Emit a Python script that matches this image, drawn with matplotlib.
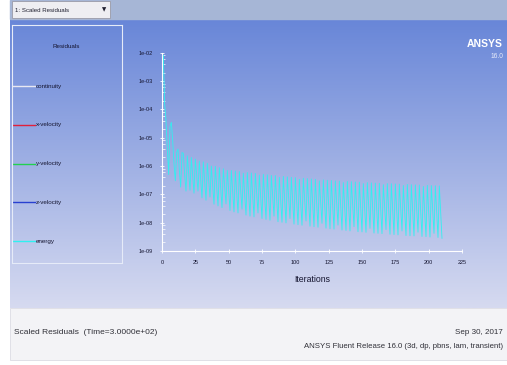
import numpy as np
import matplotlib
matplotlib.use("Agg")
import matplotlib.pyplot as plt
from matplotlib.patches import Rectangle
from matplotlib.ticker import FuncFormatter, LogLocator, FixedLocator

plt.rcParams['font.family'] = ['Liberation Sans Narrow', 'Liberation Sans', 'DejaVu Sans']

# ---- residual history (energy) ----
# first iterations, before the periodic pattern settles
early_iter = [1, 2, 3, 4, 5, 6, 7, 8, 9, 10, 11, 12, 13, 14, 15, 16, 17, 18]
early_res = [8e-3, 1.5e-4, 4e-5, 4e-6, 5e-7, 2.5e-5, 3.5e-5, 8e-6, 1.2e-6, 3e-7,
             3e-6, 4e-6, 7e-7, 1.8e-7, 3e-6, 2.8e-6, 5e-7, 1.3e-7]

# first iteration of each time step (peak) ...
peak_iter = [19, 22, 25, 28, 31, 34, 37, 40, 43, 46, 49, 52, 55, 58, 61, 64, 67, 70,
             73, 76, 79, 82, 85, 88, 91, 94, 97, 100, 103, 106, 109, 112, 115, 118, 121,
             124, 127, 130, 133, 136, 139, 142, 145, 148, 151, 154, 157, 160, 163, 166,
             169, 172, 175, 178, 181, 184, 187, 190, 193, 196, 199, 202, 205, 208]
peak_res = [2.3e-6, 2.0e-6, 1.75e-6, 1.5e-6, 1.4e-6, 1.25e-6, 1.0e-6, 9.8e-7, 8.8e-7,
            8.0e-7, 7.0e-7, 7.0e-7, 6.7e-7, 6.4e-7, 5.6e-7, 5.9e-7, 5.7e-7, 5.5e-7,
            4.8e-7, 5.1e-7, 4.9e-7, 4.7e-7, 4.6e-7, 4.0e-7, 4.3e-7, 4.15e-7, 4.0e-7,
            3.9e-7, 3.4e-7, 3.7e-7, 3.6e-7, 3.5e-7, 3.4e-7, 3.0e-7, 3.25e-7, 3.15e-7,
            3.1e-7, 3.0e-7, 2.95e-7, 2.6e-7, 2.85e-7, 2.8e-7, 2.75e-7, 2.7e-7, 2.4e-7,
            2.6e-7, 2.55e-7, 2.5e-7, 2.47e-7, 2.2e-7, 2.4e-7, 2.37e-7, 2.34e-7, 2.3e-7,
            2.05e-7, 2.24e-7, 2.2e-7, 2.17e-7, 2.14e-7, 1.9e-7, 2.08e-7, 2.05e-7,
            2.02e-7, 2.0e-7]
# ... and its last iteration (trough)
trough_iter = [21, 24, 27, 30, 33, 36, 39, 42, 45, 48, 51, 54, 57, 60, 63, 66, 69, 72,
               75, 78, 81, 84, 87, 90, 93, 96, 99, 102, 105, 108, 111, 114, 117, 120, 123,
               126, 129, 132, 135, 138, 141, 144, 147, 150, 153, 156, 159, 162, 165, 168,
               171, 174, 177, 180, 183, 186, 189, 192, 195, 198, 201, 204, 207, 210]
trough_res = [1.4e-7, 1.1e-7, 1.3e-7, 7.5e-8, 6.2e-8, 8.0e-8, 4.5e-8, 3.9e-8, 3.4e-8,
              4.6e-8, 2.7e-8, 2.4e-8, 2.2e-8, 3.0e-8, 1.85e-8, 1.7e-8, 1.6e-8, 2.2e-8,
              1.4e-8, 1.3e-8, 1.22e-8, 1.7e-8, 1.08e-8, 1.03e-8, 9.8e-9, 1.4e-8, 8.9e-9,
              8.5e-9, 8.1e-9, 1.15e-8, 7.5e-9, 7.2e-9, 6.9e-9, 9.5e-9, 6.4e-9, 6.1e-9,
              5.9e-9, 8.2e-9, 5.5e-9, 5.3e-9, 5.1e-9, 7.2e-9, 4.8e-9, 4.7e-9, 4.55e-9,
              6.3e-9, 4.3e-9, 4.2e-9, 4.1e-9, 5.7e-9, 3.9e-9, 3.8e-9, 3.7e-9, 5.1e-9,
              3.5e-9, 3.45e-9, 3.4e-9, 4.6e-9, 3.25e-9, 3.2e-9, 3.1e-9, 4.2e-9, 3.0e-9,
              2.8e-9]

legend_names = ['continuity', 'x-velocity', 'y-velocity', 'z-velocity', 'energy']
legend_colors = ['#e8e8f2', '#e0203c', '#22d050', '#2840d0', '#30f0f0']
x_ticks = [0, 25, 50, 75, 100, 125, 150, 175, 200, 225]
y_ticks = [1e-9, 1e-8, 1e-7, 1e-6, 1e-5, 1e-4, 1e-3, 1e-2]

# series: early points, then peak/trough of each time step
iters = list(early_iter)
res = list(early_res)
for pi, pv, ti, tv in zip(peak_iter, peak_res, trough_iter, trough_res):
    iters += [pi, ti]
    res += [pv, tv]

W, H = 507, 365
fig = plt.figure(figsize=(W / 100, H / 100), dpi=100)
fig.patch.set_facecolor('white')


def box(x0, y0, x1, y1):
    # pixel box (top-left origin) -> figure fraction rect
    return [x0 / W, 1 - y1 / H, (x1 - x0) / W, (y1 - y0) / H]


# top bar + dropdown
fig.patches.append(Rectangle((10 / W, 1 - 19 / H), 497 / W, 19 / H,
                             transform=fig.transFigure, color='#a6b6d6', zorder=0))
fig.patches.append(Rectangle((12 / W, 1 - 18 / H), 98 / W, 17 / H,
                             transform=fig.transFigure, facecolor='#eeeef2',
                             edgecolor='#9a9aa8', lw=0.6, zorder=1))
fig.text(15 / W, 1 - 10 / H, '1: Scaled Residuals', fontsize=4.4, color='#202030',
         va='center', ha='left')
fig.text(104 / W, 1 - 10 / H, '\u25bc', fontsize=4, color='#202030',
         va='center', ha='center', family=['DejaVu Sans'])

# gradient panel
bg = fig.add_axes(box(10, 19, 507, 308), zorder=0)
grad = np.linspace(0, 1, 256)[:, None]
top = np.array([104, 134, 216]) / 255
bot = np.array([214, 218, 240]) / 255
img = top[None, None, :] * (1 - grad[:, :, None]) + bot[None, None, :] * grad[:, :, None]
bg.imshow(img, aspect='auto', extent=[0, 1, 0, 1])
bg.axis('off')

# bottom info panel
fig.patches.append(Rectangle((10 / W, 1 - 360 / H), 497 / W, 52 / H,
                             transform=fig.transFigure, facecolor='#f3f3f6',
                             edgecolor='#dcdce4', lw=0.6, zorder=0))

# legend panel
lg = fig.add_axes(box(12, 25, 122, 263), zorder=1)
lg.set_xlim(12, 122)
lg.set_ylim(263, 25)
lg.patch.set_alpha(0)
for s in lg.spines.values():
    s.set_color('#e6ebf8')
    s.set_linewidth(0.8)
lg.set_xticks([])
lg.set_yticks([])
lg.text(66, 46, 'Residuals', fontsize=4.5, color='#151530', ha='center', va='center')
for k, (name, col) in enumerate(zip(legend_names, legend_colors)):
    yy = 86 + k * 38.8
    lg.plot([13, 35], [yy, yy], color=col, lw=1.0)
    lg.text(36, yy, name, fontsize=4.5, color='#151530', ha='left', va='center')

# residual plot
ax = fig.add_axes(box(162, 52.7, 462, 251), zorder=2)
ax.patch.set_alpha(0)
ax.plot(iters, res, color='#30f0f0', lw=0.6, zorder=3)
ax.set_yscale('log')
ax.set_xlim(0, 225)
ax.set_ylim(1e-9, 1e-2)
ax.xaxis.set_major_locator(FixedLocator(x_ticks))
ax.yaxis.set_major_locator(FixedLocator(y_ticks))
ax.yaxis.set_minor_locator(LogLocator(base=10, subs=(2, 4, 6, 8), numticks=20))
ax.yaxis.set_major_formatter(FuncFormatter(lambda v, p: f'{v:.0e}'))
for side in ['top', 'right']:
    ax.spines[side].set_visible(False)
for side in ['left', 'bottom']:
    ax.spines[side].set_color('white')
    ax.spines[side].set_linewidth(0.8)
ax.tick_params(which='major', colors='white', labelcolor='#151530', labelsize=4,
               length=3, width=0.6, direction='inout', pad=5)
ax.tick_params(which='minor', colors='white', length=2, width=0.5, direction='in')
ax.tick_params(axis='x', which='minor', length=0)
ax.set_xlabel('Iterations', fontsize=6.3, color='#151530', labelpad=7)

# logo
fig.text(503 / W, 1 - 44 / H, 'ANSYS', fontsize=7.5, fontweight='bold', color='white',
         ha='right', va='center')
fig.text(503 / W, 1 - 56 / H, '16.0', fontsize=4.8, color='#e8ecfa', ha='right', va='center')

# footer text
fig.text(14 / W, 1 - 333 / H, 'Scaled Residuals  (Time=3.0000e+02)', fontsize=6.0,
         color='#303038', ha='left', va='center')
fig.text(503 / W, 1 - 333 / H, 'Sep 30, 2017', fontsize=5.8, color='#303038',
         ha='right', va='center')
fig.text(503 / W, 1 - 347 / H, 'ANSYS Fluent Release 16.0 (3d, dp, pbns, lam, transient)',
         fontsize=5.6, color='#303038', ha='right', va='center')

fig.savefig('out.png', dpi=100)
